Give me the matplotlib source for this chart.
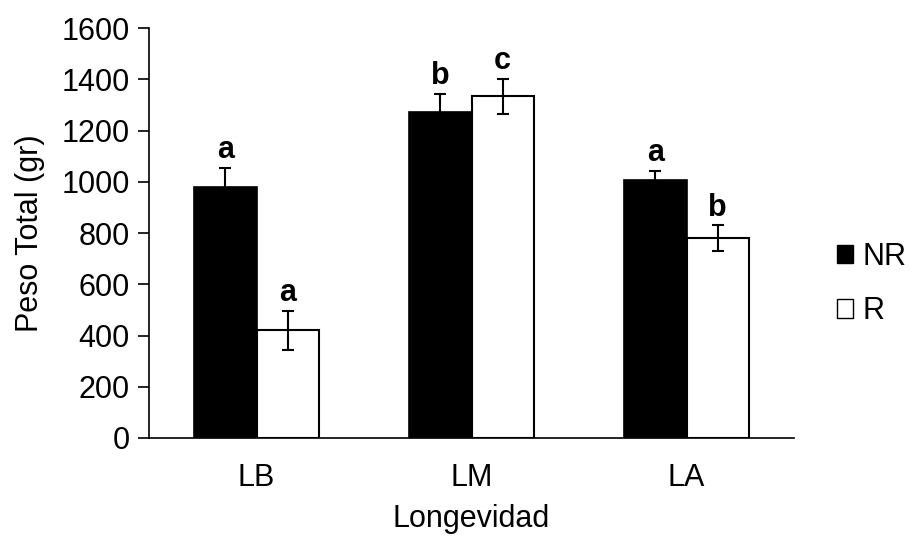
import numpy as np
import matplotlib.pyplot as plt
from matplotlib.patches import Patch

plt.rcParams['font.family'] = ['Liberation Sans', 'DejaVu Sans']

# mean total weight per longevity class, non-reproductive vs reproductive
categories = ['LB', 'LM', 'LA']
nr_mean = [979, 1272, 1007]
nr_err = [75, 70, 35]
r_mean = [421, 1334, 780]
r_err = [76, 68, 50]
nr_letters = ['a', 'b', 'a']
r_letters = ['a', 'c', 'b']

fs = 22

fig = plt.figure(figsize=(9.09, 5.39), dpi=100)
ax = fig.add_axes([0.164, 0.1874, 0.7095, 0.7606])

x = np.arange(len(categories))
w = 0.29
err_kw = dict(ecolor='black', elinewidth=1.5, capsize=4, capthick=1.5)
ax.bar(x - w / 2, nr_mean, w, yerr=nr_err, color='black', edgecolor='black',
       linewidth=1.2, error_kw=err_kw)
ax.bar(x + w / 2, r_mean, w, yerr=r_err, color='white', edgecolor='black',
       linewidth=1.5, error_kw=err_kw)

# significance letters above the error bars
for xi, m, e, t in zip(x - w / 2, nr_mean, nr_err, nr_letters):
    ax.annotate(t, (xi, m + e), xytext=(0, 2), textcoords='offset points',
                ha='center', va='bottom', fontsize=fs, fontweight='bold')
for xi, m, e, t in zip(x + w / 2, r_mean, r_err, r_letters):
    ax.annotate(t, (xi, m + e), xytext=(0, 2), textcoords='offset points',
                ha='center', va='bottom', fontsize=fs, fontweight='bold')

ax.set_xlim(-0.5, 2.5)
ax.set_ylim(0, 1600)
ax.set_yticks(np.arange(0, 1601, 200))
ax.set_xticks(x)
ax.set_xticklabels(categories)
ax.tick_params(axis='y', labelsize=fs, length=8, width=1.2, pad=6)
ax.tick_params(axis='x', labelsize=fs, length=0, pad=18)
for s in ['top', 'right']:
    ax.spines[s].set_visible(False)
ax.spines['left'].set_linewidth(1.2)
ax.spines['bottom'].set_linewidth(1.2)

ax.set_xlabel('Longevidad', fontsize=fs, labelpad=8)
ax.set_ylabel('Peso Total (gr)', fontsize=fs, labelpad=12)

handles = [Patch(facecolor='black', edgecolor='black', label='NR'),
           Patch(facecolor='white', edgecolor='black', label='R')]
fig.legend(handles=handles, loc='center left', bbox_to_anchor=(0.907, 0.473),
           frameon=False, fontsize=fs, handlelength=0.55, handleheight=0.55,
           handletextpad=0.3, labelspacing=0.8, borderaxespad=0)

fig.savefig('out.png', dpi=100)
